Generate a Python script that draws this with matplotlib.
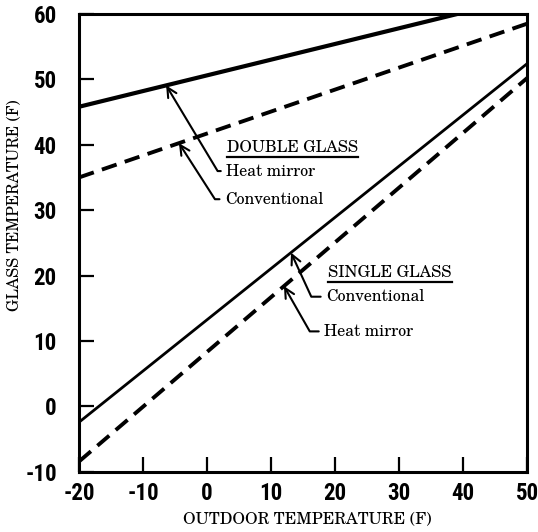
import numpy as np
import matplotlib
matplotlib.use("Agg")
import matplotlib.pyplot as plt
from matplotlib import font_manager

# Glass surface temperature vs outdoor temperature
outdoor = [-20, 50]
double_mirror = [45.8, 62.6]
double_conv = [35.0, 58.5]
single_conv = [-2.4, 52.4]
single_mirror = [-8.4, 50.2]

x_ticks = [-20, -10, 0, 10, 20, 30, 40, 50]
y_ticks = [-10, 0, 10, 20, 30, 40, 50, 60]

installed = {f.name for f in font_manager.fontManager.ttflist}


def pick(*families):
    for fam in families:
        if fam in installed:
            return fam
    return families[-1]


num_family = pick("Roboto Condensed", "Archivo Narrow", "PT Sans Narrow",
                  "Liberation Sans Narrow", "DejaVu Sans")
serif = pick("TeX Gyre Schola", "C059", "Century Schoolbook L", "DejaVu Serif")
tick_font = dict(family=num_family, weight="black", size=16.5)

fig = plt.figure(figsize=(5.38, 5.32), dpi=100)
ax = fig.add_axes([0.147, 0.113, 0.833, 0.861])

ax.plot(outdoor, double_mirror, color="black", lw=3.0, solid_capstyle="butt")
ax.plot(outdoor, double_conv, color="black", lw=2.8, ls=(0, (4, 2.2)))
ax.plot(outdoor, single_conv, color="black", lw=2.0, solid_capstyle="butt")
ax.plot(outdoor, single_mirror, color="black", lw=2.8, ls=(0, (4, 2.2)))

ax.set_xlim(-20, 50)
ax.set_ylim(-10, 60)
ax.set_xticks(x_ticks)
ax.set_yticks(y_ticks)
ax.set_xticklabels([str(v) for v in x_ticks], **tick_font)
ax.set_yticklabels([str(v) for v in y_ticks], **tick_font)
ax.tick_params(axis="x", direction="in", length=11, width=1.6, pad=7)
ax.tick_params(axis="y", direction="in", length=11, width=1.6, pad=16)
for s in ax.spines.values():
    s.set_linewidth(2.2)

ax.set_xlabel("OUTDOOR TEMPERATURE (F)", family=serif, size=11.7)
ax.set_ylabel("GLASS TEMPERATURE (F)", family=serif, size=11.4)
ax.xaxis.set_label_coords(0.51, -0.088)
ax.yaxis.set_label_coords(-0.127, 0.583)


def label(text, x_tip, series, xt, yt, ang):
    # leader runs left from the text, then bends up to the line
    y_tip = np.interp(x_tip, outdoor, series)
    ax.annotate(text, xy=(x_tip, y_tip), xytext=(xt, yt),
                ha="left", va="center_baseline", family=serif, size=11.5,
                arrowprops=dict(arrowstyle="->,head_length=0.6,head_width=0.3",
                                color="black", lw=1.5, shrinkA=2, shrinkB=0,
                                connectionstyle=f"angle,angleA=0,angleB={ang},rad=0"))


def heading(text, x, y):
    t = ax.text(x, y, text, ha="left", va="baseline", family=serif, size=11.5)
    fig.canvas.draw()
    bb = t.get_window_extent()
    inv = ax.transData.inverted()
    base = ax.transData.transform((x, y))[1] - 5
    (x0, y0), (x1, _) = inv.transform([(bb.x0, base), (bb.x1, base)])
    ax.plot([x0, x1], [y0, y0], color="black", lw=1.6)


heading("DOUBLE GLASS", 3.1, 38.9)
label("Heat mirror", -6.4, double_mirror, 3.0, 36.2, 121)
label("Conventional", -4.4, double_conv, 2.8, 31.9, 122.7)

heading("SINGLE GLASS", 18.9, 19.8)
label("Conventional", 13.1, single_conv, 18.6, 17.0, 114.7)
label("Heat mirror", 12.0, single_mirror, 18.3, 11.7, 119.7)

fig.savefig("out.png", dpi=100)
